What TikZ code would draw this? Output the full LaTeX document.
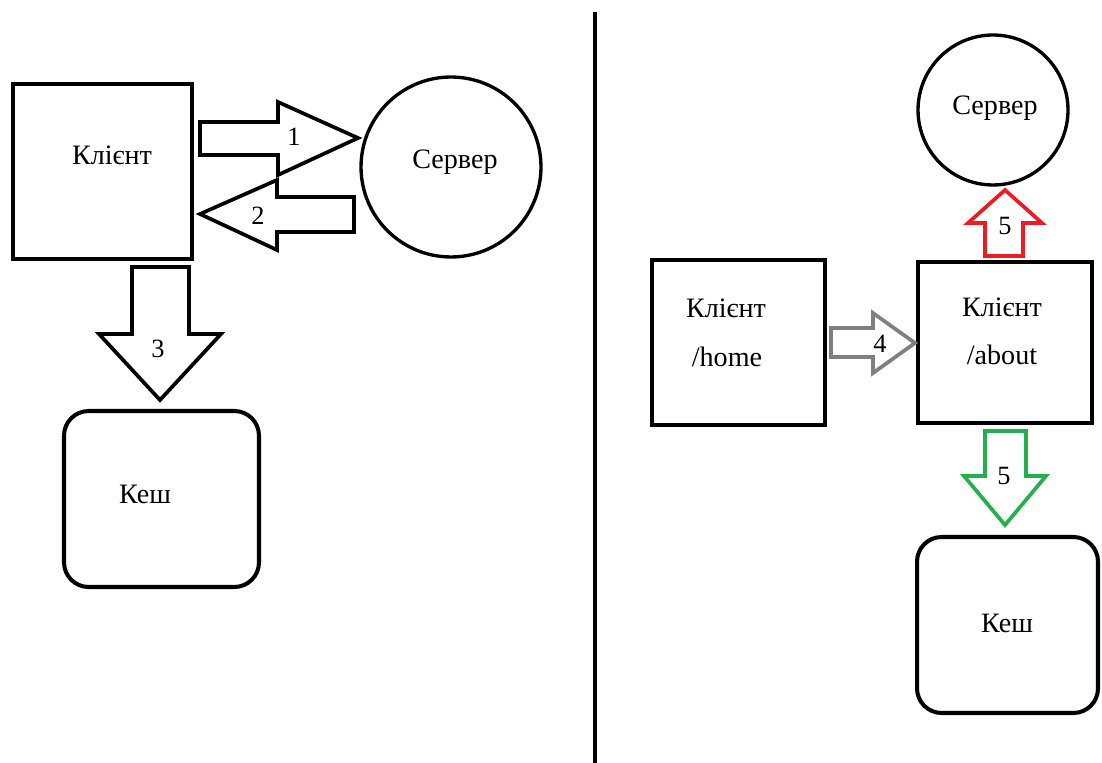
\documentclass[tikz,border=0pt]{standalone}
\usepackage{fontspec}
\setmainfont{Liberation Serif}
\usetikzlibrary{positioning}
\definecolor{paintred}{HTML}{ED1C24}
\definecolor{paintgreen}{HTML}{22B14C}
\definecolor{paintgray}{HTML}{7F7F7F}
\tikzset{
  box/.style={draw, line width=2.3pt, inner sep=0pt},
  cache/.style={draw, line width=2.3pt, rounded corners=14pt, inner sep=0pt},
  srv/.style={draw, circle, line width=1.9pt, inner sep=0pt,
              font=\fontsize{16}{19}\selectfont},
  txt/.style={font=\fontsize{16}{19}\selectfont, inner sep=0pt},
  num/.style={font=\fontsize{15}{18}\selectfont, inner sep=0pt},
  blk/.style={draw, line width=2.1pt, line join=miter, fill=white},
}

\begin{document}
\begin{tikzpicture}[x=0.02cm, y=-0.02cm]
  \useasboundingbox (0,0) rectangle (1102,763);

  % left half
  \node[box, minimum width=3.58cm, minimum height=3.5cm] (kl) at (102.5,171.5) {};
  \node[txt] (klt) at (112,155) {Клієнт};
  \node[srv, minimum size=3.6cm] (srv) at (451,167) {};
  \node[txt] (srvt) at (455,162) {Сервер};
  \node[cache, minimum width=3.9cm, minimum height=3.52cm] (kesh) at (161.5,499) {};
  \node[txt] (kesht) at (145,494) {Кеш};

  \draw[blk] (200,122) -- (278,122) -- (278,102) -- (358,138)
             -- (278,175) -- (278,155) -- (200,155) -- cycle;
  \node[num] (n1) at (294,137) {1};
  \draw[blk] (354,197) -- (277,197) -- (277,180) -- (200,214)
             -- (277,250) -- (277,232) -- (354,232) -- cycle;
  \node[num] (n2) at (258,216) {2};
  \draw[blk] (132,267) -- (189,267) -- (189,334) -- (221,334) -- (160,400)
             -- (99,334) -- (132,334) -- cycle;
  \node[num] (n3) at (158,349) {3};

  % divider
  \coordinate (top) at (595,12);
  \coordinate (bot) at (595,763);
  \draw[line width=2.2pt] (top) -- (bot);

  % right half
  \node[srv, minimum size=3cm] (srv2) at (993,110) {};
  \node[txt] (srv2t) at (995,108) {Сервер};
  \node[box, minimum width=3.46cm, minimum height=3.3cm] (home) at (738.5,342.5) {};
  \node[txt] (homet) at (726,308) {Клієнт};
  \node[txt] (homep) at (727,357) {/home};
  \node[box, minimum width=3.48cm, minimum height=3.22cm] (about) at (1005,342.5) {};
  \node[txt] (aboutt) at (1002,307) {Клієнт};
  \node[txt] (aboutp) at (1002,355) {/about};
  \node[cache, minimum width=3.62cm, minimum height=3.52cm] (kesh2) at (1007.5,625) {};
  \node[txt] (kesh2t) at (1007,623) {Кеш};

  \draw[blk, draw=paintgray] (831,328) -- (873,328) -- (873,313) -- (915,343)
             -- (873,373) -- (873,357) -- (831,357) -- cycle;
  \node[num] (n4) at (880,344) {4};
  \draw[blk, draw=paintred] (985,256) -- (985,223) -- (968,223) -- (1005,190)
             -- (1042,223) -- (1023,223) -- (1023,256) -- cycle;
  \node[num] (n5a) at (1005,226) {5};
  \draw[blk, draw=paintgreen] (985,431) -- (1026,431) -- (1026,476) -- (1046,476)
             -- (1005,525) -- (964,476) -- (985,476) -- cycle;
  \node[num] (n5b) at (1004,476) {5};
\end{tikzpicture}
\end{document}
